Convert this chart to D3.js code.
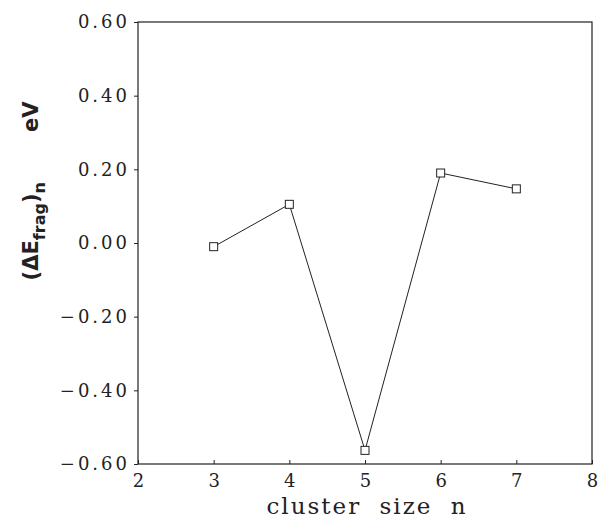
<!DOCTYPE html>
<html>
<head>
<meta charset="utf-8">
<script src="https://cdn.jsdelivr.net/npm/d3@7"></script>
<style>
  body { margin: 0; background: #fff; }
  svg { display: block; }
</style>
</head>
<body>
<div id="chart"></div>
<script>
// cluster size n vs fragmentation energy difference (eV)
const clusterSize = [3, 4, 5, 6, 7];
const deltaEfrag = [-0.01, 0.105, -0.563, 0.19, 0.147];
const xTicks = [2, 3, 4, 5, 6, 7, 8];
const yTicks = [-0.6, -0.4, -0.2, 0.0, 0.2, 0.4, 0.6];

const margin = { top: 22, right: 12, bottom: 56, left: 138 },
    width = 604 - margin.left - margin.right,
    height = 520 - margin.top - margin.bottom;

const svg = d3.select("#chart")
    .append("svg")
    .attr("width", 604)
    .attr("height", 520)
    .append("g")
    .attr("transform", `translate(${margin.left}, ${margin.top})`);

const x = d3.scaleLinear().domain([2, 8]).range([0, width]);
const y = d3.scaleLinear().domain([-0.6, 0.6]).range([height, 0]);

// frame
svg.append("rect")
    .attr("x", 0).attr("y", 0)
    .attr("width", width).attr("height", height)
    .attr("fill", "none")
    .attr("stroke", "#222")
    .attr("stroke-width", 1.2);

// x axis, ticks pointing inward
const xAxis = svg.append("g")
    .attr("transform", `translate(0, ${height})`)
    .call(d3.axisBottom(x).tickValues(xTicks).tickSizeInner(-4).tickSizeOuter(0).tickPadding(10).tickFormat(d3.format("d")));
xAxis.select(".domain").remove();
xAxis.selectAll("text")
    .style("font-family", "'DejaVu Serif', serif")
    .style("font-size", "18px")
    .attr("fill", "#222");

// y axis, small outward ticks
const yAxis = svg.append("g")
    .call(d3.axisLeft(y).tickValues(yTicks).tickSizeInner(4).tickSizeOuter(0).tickPadding(4)
        .tickFormat(d => (d < 0 ? "\u2212" : "") + Math.abs(d).toFixed(2)));
yAxis.select(".domain").remove();
yAxis.selectAll("text")
    .style("font-family", "'DejaVu Serif', serif")
    .style("font-size", "18px")
    .style("letter-spacing", "3px")
    .attr("fill", "#222");
svg.selectAll(".tick line").attr("stroke", "#222");

// line
const line = d3.line()
    .x((d, i) => x(clusterSize[i]))
    .y(d => y(d));

svg.append("path")
    .datum(deltaEfrag)
    .attr("d", line)
    .attr("fill", "none")
    .attr("stroke", "#222")
    .attr("stroke-width", 1);

// open square markers
svg.selectAll(".pt")
    .data(deltaEfrag)
    .enter()
    .append("rect")
    .attr("class", "pt")
    .attr("x", (d, i) => x(clusterSize[i]) - 4)
    .attr("y", d => y(d) - 4)
    .attr("width", 8)
    .attr("height", 8)
    .attr("fill", "#fff")
    .attr("stroke", "#222")
    .attr("stroke-width", 1);

// X axis label
svg.append("text")
    .attr("text-anchor", "middle")
    .attr("x", x(5) + 2)
    .attr("y", height + 50)
    .style("font-family", "'DejaVu Serif', serif")
    .style("font-size", "23px")
    .style("letter-spacing", "2px")
    .style("word-spacing", "9px")
    .attr("fill", "#222")
    .text("cluster size n");

// Y axis label
const ylab = svg.append("text")
    .attr("transform", "rotate(-90)")
    .attr("x", -(height / 2) + 52)
    .attr("y", -margin.left + 38)
    .attr("text-anchor", "middle")
    .style("font-family", "'DejaVu Sans', sans-serif")
    .style("font-weight", "bold")
    .style("font-size", "21px")
    .attr("fill", "#222");
ylab.append("tspan").text("(\u0394E");
ylab.append("tspan").attr("dy", 7).style("font-size", "16px").text("frag");
ylab.append("tspan").attr("dy", -7).text(")");
ylab.append("tspan").attr("dy", 7).style("font-size", "16px").text("n");
ylab.append("tspan").attr("dy", -7).attr("dx", 50).text("eV");
</script>
</body>
</html>
